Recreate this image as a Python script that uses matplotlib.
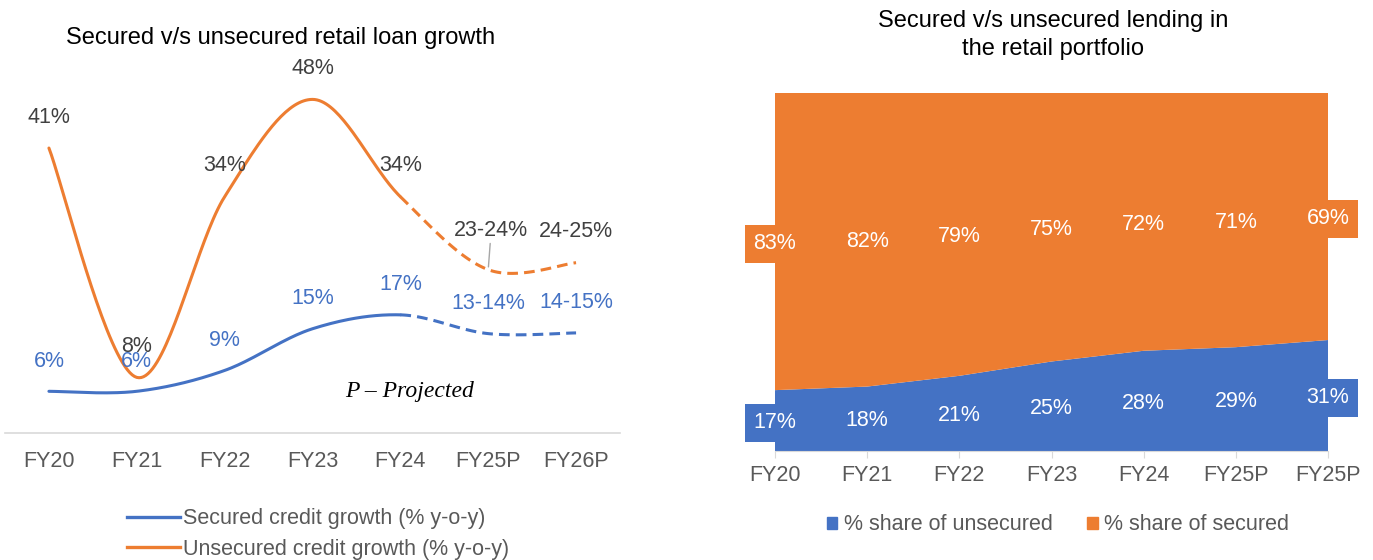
import numpy as np
import matplotlib
matplotlib.use("Agg")
import matplotlib.pyplot as plt
from matplotlib.lines import Line2D
from matplotlib.patches import Patch

plt.rcParams["font.family"] = ["Liberation Sans", "DejaVu Sans"]

BLUE = "#4472C4"
ORANGE = "#ED7D31"
GREY = "#595959"
DARK = "#404040"
FS = 15.5

# --- left chart data ---
years_l = ["FY20", "FY21", "FY22", "FY23", "FY24", "FY25P", "FY26P"]
secured_growth = [6, 6, 9, 15, 17, 14.3, 14.4]
unsecured_growth = [41, 8, 34, 48, 34, 23.5, 24.5]
secured_lbl = ["6%", "6%", "9%", "15%", "17%", "13-14%", "14-15%"]
unsecured_lbl = ["41%", "8%", "34%", "48%", "34%", "23-24%", "24-25%"]

# --- right chart data ---
years_r = ["FY20", "FY21", "FY22", "FY23", "FY24", "FY25P", "FY25P"]
share_unsecured = [17, 18, 21, 25, 28, 29, 31]
share_secured = [83, 82, 79, 75, 72, 71, 69]


def smooth(xs, ys, n=40):
    # Excel-like smoothed line (Catmull-Rom as cubic Bezier)
    pts = np.column_stack([xs, ys]).astype(float)
    P = np.vstack([pts[0], pts, pts[-1]])
    out = []
    t = np.linspace(0, 1, n)[:, None]
    for i in range(1, len(P) - 2):
        p0, p1, p2, p3 = P[i - 1], P[i], P[i + 1], P[i + 2]
        c1 = p1 + (p2 - p0) / 6
        c2 = p2 - (p3 - p1) / 6
        seg = (1 - t) ** 3 * p1 + 3 * (1 - t) ** 2 * t * c1 + 3 * (1 - t) * t ** 2 * c2 + t ** 3 * p2
        out.append(seg if i == 1 else seg[1:])
    return np.vstack(out)


fig = plt.figure(figsize=(13.73, 5.6), dpi=100)
W, H = 1373, 560

# ================= left: growth lines =================
ax = fig.add_axes([5 / W, (H - 433) / H, 615 / W, 417 / H])
x = np.arange(len(years_l))
for vals, col in [(secured_growth, BLUE), (unsecured_growth, ORANGE)]:
    c = smooth(x, vals)
    solid = c[c[:, 0] <= 4]
    dash = c[c[:, 0] >= 4]
    ax.plot(solid[:, 0], solid[:, 1], color=col, lw=2.2, solid_capstyle="round")
    ax.plot(dash[:, 0], dash[:, 1], color=col, lw=2.2, ls=(0, (3.5, 2)))

for i, (v, s) in enumerate(zip(unsecured_growth, unsecured_lbl)):
    if i == 5:
        ax.annotate(s, xy=(i, v), xytext=(3, 29), textcoords="offset pixels",
                    ha="center", va="bottom", fontsize=FS, color=DARK,
                    arrowprops=dict(arrowstyle="-", color="#A6A6A6", lw=1,
                                    shrinkA=0, shrinkB=2))
    else:
        ax.annotate(s, xy=(i, v), xytext=(0, 31), textcoords="offset pixels",
                    ha="center", va="center", fontsize=FS, color=DARK)
for i, (v, s) in enumerate(zip(secured_growth, secured_lbl)):
    ax.annotate(s, xy=(i, v), xytext=(0, 30), textcoords="offset pixels",
                ha="center", va="center", fontsize=FS, color=BLUE)

ax.text(4.1, 6, "P \u2013 Projected", family="Liberation Serif", style="italic",
        fontsize=17, ha="center", va="center", color="black")

ax.set_xlim(-0.5, 6.5)
ax.set_ylim(0, 60)
ax.set_xticks(x)
ax.set_xticklabels(years_l, fontsize=FS, color=GREY)
ax.tick_params(axis="x", length=0, pad=13)
ax.set_yticks([])
for sp in ["top", "right", "left"]:
    ax.spines[sp].set_visible(False)
ax.spines["bottom"].set_color("#D9D9D9")
ax.spines["bottom"].set_linewidth(1.2)
fig.text(281 / W, 1 - 38 / H, "Secured v/s unsecured retail loan growth",
         ha="center", va="center", fontsize=17, color="black")

h1 = [Line2D([], [], color=BLUE, lw=2.4), Line2D([], [], color=ORANGE, lw=2.4)]
fig.legend(h1, ["Secured credit growth (% y-o-y)", "Unsecured credit growth (% y-o-y)"],
           loc="center", bbox_to_anchor=(318 / W, 1 - 534 / H), frameon=False,
           fontsize=FS, labelcolor=GREY, handlelength=2.45, handletextpad=0.15,
           labelspacing=0.45, borderpad=0)

# ================= right: stacked area =================
ax2 = fig.add_axes([775 / W, (H - 451) / H, 553 / W, 358 / H])
xr = np.arange(len(years_r))
ax2.stackplot(xr, share_unsecured, share_secured, colors=[BLUE, ORANGE], lw=0)
base = np.zeros(len(xr))
for vals, col in [(share_unsecured, BLUE), (share_secured, ORANGE)]:
    for i, v in enumerate(vals):
        ax2.text(i, base[i] + v / 2 - 0.6, f"{v}%", ha="center", va="center",
                 fontsize=FS, color="white",
                 bbox=dict(boxstyle="square,pad=0.4", fc=col, ec="none"))
    base = base + np.array(vals)

ax2.set_xlim(0, 6)
ax2.set_ylim(0, 100)
ax2.set_xticks(xr)
ax2.set_xticklabels(years_r, fontsize=FS, color=GREY)
ax2.tick_params(axis="x", length=5, color="#D9D9D9", pad=5)
ax2.set_yticks([])
for sp in ["top", "right", "left"]:
    ax2.spines[sp].set_visible(False)
ax2.spines["bottom"].set_color("#D9D9D9")
fig.text(1053 / W, 1 - 35 / H, "Secured v/s unsecured lending in\nthe retail portfolio",
         ha="center", va="center", fontsize=17, color="black", linespacing=1.3)

h2 = [Patch(color=BLUE), Patch(color=ORANGE)]
fig.legend(h2, ["% share of unsecured", "% share of secured"], loc="center",
           bbox_to_anchor=(1058 / W, 1 - 525 / H), ncol=2, frameon=False,
           fontsize=FS, labelcolor=GREY, handlelength=0.5, handleheight=0.5,
           handletextpad=0.3, columnspacing=1.6)

fig.savefig("out.png", dpi=100)
